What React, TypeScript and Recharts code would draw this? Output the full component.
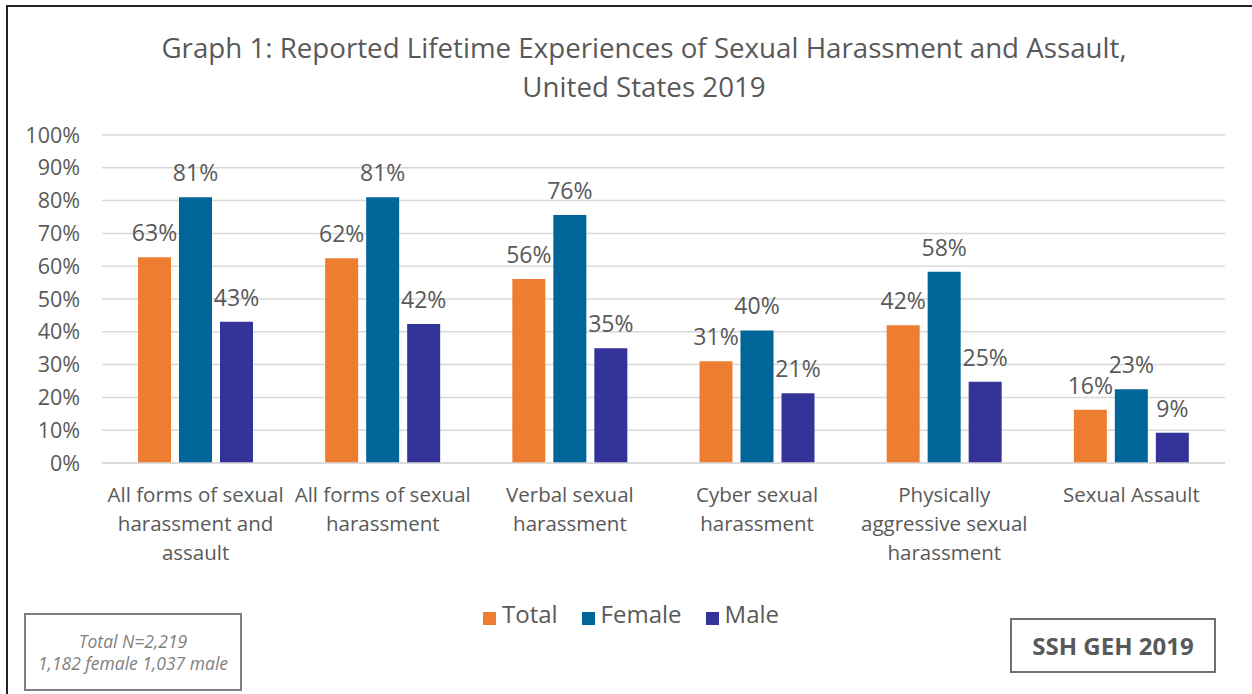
import React from 'react';
import { BarChart, Bar, XAxis, YAxis, CartesianGrid, Legend, LabelList } from 'recharts';

const categories = [
  'All forms of sexual\nharassment and\nassault',
  'All forms of sexual\nharassment',
  'Verbal sexual\nharassment',
  'Cyber sexual\nharassment',
  'Physically\naggressive sexual\nharassment',
  'Sexual Assault',
];
const totalValues = [62.7, 62.4, 56.1, 31.0, 42.0, 16.2];
const femaleValues = [81.0, 81.0, 75.6, 40.4, 58.3, 22.5];
const maleValues = [43.1, 42.4, 35.0, 21.3, 24.8, 9.2];
const yTicks = [0, 10, 20, 30, 40, 50, 60, 70, 80, 90, 100];
const seriesNames = ['Total', 'Female', 'Male'];
const seriesColors = ['#ED7D31', '#006598', '#343399'];
const titleLines = ['Graph 1: Reported Lifetime Experiences of Sexual Harassment and Assault,', 'United States 2019'];
const noteLines = ['Total N=2,219', '1,182 female 1,037 male'];
const badgeText = 'SSH GEH 2019';

const data = categories.map((c, i) => ({
  category: c,
  Total: totalValues[i],
  Female: femaleValues[i],
  Male: maleValues[i],
}));

const FONT = '"Open Sans", "Noto Sans", sans-serif';
const TEXT = '#595959';

const CategoryTick = (props: any) => {
  const { x, y, payload } = props;
  const lines = String(payload.value).split('\n');
  return (
    <text x={x} y={y} textAnchor="middle" fill={TEXT} fontSize={20.5} fontFamily={FONT}>
      {lines.map((l, i) => (
        <tspan key={i} x={x} y={y + 31 + i * 29}>{l}</tspan>
      ))}
    </text>
  );
};

export default function App() {
  return (
    <div style={{ position: 'absolute', left: 0, top: 0, width: 1252, height: 694, background: '#fff', overflow: 'hidden', fontFamily: FONT }}>
      <div style={{ position: 'absolute', left: 6, top: 5, width: 1252, height: 700, borderLeft: '2px solid #222', borderTop: '2px solid #222' }} />
      {titleLines.map((t, i) => (
        <div key={i} style={{ position: 'absolute', left: 0, width: 1288, top: 30 + i * 39, textAlign: 'center', fontSize: 27.7, color: TEXT, lineHeight: '34px', whiteSpace: 'nowrap' }}>{t}</div>
      ))}
      <BarChart
        width={1252}
        height={694}
        data={data}
        margin={{ top: 135, right: 27, left: 22, bottom: 131 }}
        barGap={8}
        barSize={33}
        style={{ position: 'absolute', left: 0, top: 0 }}
      >
        <CartesianGrid vertical={false} stroke="#d9d9d9" strokeWidth={1.5} />
        <XAxis
          dataKey="category"
          interval={0}
          height={100}
          tickLine={false}
          axisLine={{ stroke: '#d9d9d9', strokeWidth: 1.5 }}
          tick={<CategoryTick />}
        />
        <YAxis
          width={80}
          domain={[0, 100]}
          ticks={yTicks}
          tickFormatter={(v: number) => `${v}%`}
          axisLine={false}
          tickLine={false}
          tickMargin={16}
          tick={{ fill: TEXT, fontSize: 21.5, fontFamily: FONT }}
        />
        <Legend
          layout="horizontal"
          verticalAlign="middle"
          align="center"
          iconType="square"
          iconSize={13}
          itemSorter={(item: any) => seriesNames.indexOf(item.value)}
          wrapperStyle={{ top: 597, left: 15, width: 1256, textAlign: 'center', fontFamily: FONT }}
          formatter={(value: string) => (
            <span style={{ color: TEXT, fontSize: 24, marginRight: 14, marginLeft: 2 }}>{value}</span>
          )}
        />
        {seriesNames.map((name, i) => (
          <Bar key={name} dataKey={name} name={name} fill={seriesColors[i]} isAnimationActive={false}>
            <LabelList
              dataKey={name}
              position="top"
              offset={16}
              fill={TEXT}
              fontSize={23}
              fontFamily={FONT}
              formatter={(v: any) => `${Math.round(Number(v))}%`}
            />
          </Bar>
        ))}
      </BarChart>
      <div style={{ position: 'absolute', left: 24, top: 613, width: 214, height: 74, border: '2px solid #7f7f7f', display: 'flex', flexDirection: 'column', justifyContent: 'center', alignItems: 'center', color: '#7f7f7f', fontStyle: 'italic', fontSize: 17.5, lineHeight: '22px' }}>
        {noteLines.map((l, i) => (<div key={i} style={{ whiteSpace: 'nowrap' }}>{l}</div>))}
      </div>
      <div style={{ position: 'absolute', left: 1010, top: 618, width: 202, height: 51, border: '2px solid #6f6f6f', display: 'flex', justifyContent: 'center', alignItems: 'center', color: TEXT, fontWeight: 'bold', fontSize: 24 }}>
        {badgeText}
      </div>
    </div>
  );
}
